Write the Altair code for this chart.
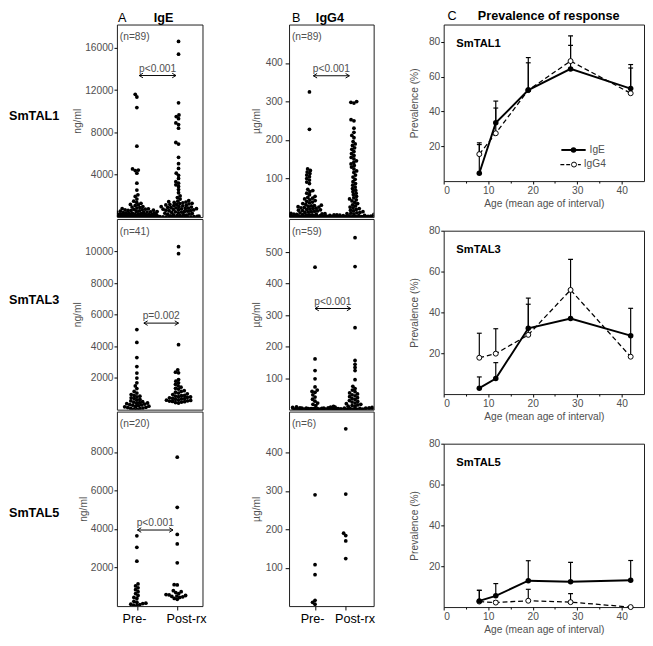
import math
import altair as alt
import pandas as pd

FONT = "Liberation Sans"
GREY = "#505050"

# ---------------- data ----------------
GROUPS = ["Pre-", "Post-rx"]
ANTIGENS = ["SmTAL1", "SmTAL3", "SmTAL5"]

# Column A: IgE (ng/ml)
ige1_pre = [11600, 11350, 10350, 6700, 4550, 4450, 4400, 4150, 3200, 2550, 2100, 1950, 1700,
            1500, 1400, 1300, 1200, 1150, 1100, 1000, 950, 900, 850, 800, 780,
            750, 720, 700, 690, 650, 630, 600, 580, 560, 530, 520, 500, 480, 470, 440, 420, 400,
            380, 360, 340, 320, 300, 290, 285, 270, 260, 250, 240, 230, 220, 210, 200, 190, 185,
            170, 160, 150, 140, 130, 120, 110, 100, 95, 90, 85, 80, 75, 70, 65, 60, 55, 50, 45,
            40, 35, 30, 25, 20, 15, 10, 8, 6, 4, 2]
ige1_post = [16600, 15400, 10800, 9650, 9500, 9300, 8900, 8750, 8400, 7050, 6900, 5650, 5050,
             4600, 4150, 3950, 3650, 3350, 3200, 3050, 2900, 2600, 2300, 2000, 1850, 1700,
             1550, 1500, 1450, 1420, 1380, 1350, 1300, 1280, 1250, 1200, 1180, 1150, 1100, 1080,
             1050, 1000, 980, 950, 920, 900, 880, 850, 820, 800, 780, 750, 720, 700, 680, 650,
             620, 600, 570, 540, 500, 470, 440, 400, 370, 340, 300, 270, 240, 210, 180, 150, 130,
             110, 90, 75, 60, 50, 40, 30, 25, 20, 15, 12, 10, 8, 6, 5, 3]
ige3_pre = [5060, 4250, 3290, 2720, 2310, 2000, 1700, 1500, 1330, 1150, 1050, 950, 900, 850, 800,
            750, 700, 650, 600, 550, 500, 480, 450, 420, 400, 380, 350, 320, 300, 280, 250, 220,
            200, 180, 150, 130, 100, 80, 60, 40, 20]
ige3_post = [10300, 9860, 4110, 2520, 2370, 2330, 1900, 1800, 1700, 1600, 1500, 1420, 1350, 1300,
             1200, 1150, 1100, 1050, 1000, 950, 900, 880, 850, 820, 800, 780, 750, 720, 700, 680,
             650, 620, 600, 580, 560, 540, 520, 500, 480, 450, 420]
ige5_pre = [3650, 3050, 2330, 1150, 1050, 950, 850, 750, 650, 550, 450, 400, 250, 200, 150, 130,
            100, 80, 50, 30]
ige5_post = [7730, 5130, 3720, 3230, 2250, 1110, 1100, 800, 750, 700, 650, 600, 580, 550, 520, 500,
             480, 450, 400, 350]

# Column B: IgG4 (µg/ml)
igg1_pre = [325, 228, 125, 121, 117, 113, 109, 105, 100, 96, 91, 87, 72, 69, 66, 62, 58,
            54, 51, 49, 47, 45, 43, 41, 39, 37, 35, 33, 31, 30, 29, 28, 27, 26, 25, 24, 23, 22,
            21, 20, 19, 18, 17, 16, 15, 14, 13, 12, 11, 10, 9.5, 9, 8.5, 8, 7.5, 7, 6.5, 6, 5.5,
            5, 4.5, 4, 3.5, 3, 3, 2.5, 2.5, 2, 2, 1.5, 1.5, 1.2, 1.2, 1, 1, 0.8, 0.8, 0.6, 0.6,
            0.5, 0.5, 0.4, 0.4, 0.3, 0.3, 0.2, 0.2, 0.1, 0.1]
igg1_post = [300, 298, 296, 253, 250, 231, 220, 212, 206, 196, 190, 186, 180, 176, 170, 165, 160,
             155, 151, 146, 142, 138, 134, 130, 125, 120, 116, 109, 104, 98, 92, 87, 83, 78, 74,
             70, 66, 62, 58, 54, 50, 47, 45, 42, 38, 35, 32, 29, 26, 24, 22, 20, 18, 16, 14, 12,
             11, 10, 9, 8, 7, 6, 5.5, 5, 4.5, 4, 3.5, 3, 2.5, 2, 2, 1.5, 1.5, 1.2, 1, 1, 0.8, 0.8,
             0.6, 0.5, 0.5, 0.4, 0.3, 0.3, 0.2, 0.2, 0.1, 0.1, 0.1]
igg3_pre = [452, 161, 124, 98, 72, 62, 58, 55, 47, 40, 33, 27, 21, 17, 13, 10, 9, 8, 7, 6, 6, 5, 5,
            4.5, 4, 4, 3.5, 3, 3, 2.5, 2.5, 2, 2, 2, 1.8, 1.6, 1.5, 1.4, 1.2, 1.1, 1, 1, 0.9, 0.8,
            0.8, 0.7, 0.6, 0.6, 0.5, 0.5, 0.4, 0.4, 0.3, 0.3, 0.2, 0.2, 0.1, 0.1, 0.1]
igg3_post = [546, 454, 260, 156, 144, 134, 124, 95, 74, 67, 62, 57, 53, 50, 47, 44, 41, 38, 35, 32,
             29, 26, 24, 21, 19, 17, 15, 13, 11, 10, 9, 8, 7, 6, 5, 4.5, 4, 3.5, 3, 2.5, 2, 2, 1.5,
             1.5, 1.2, 1, 1, 0.8, 0.7, 0.6, 0.5, 0.4, 0.4, 0.3, 0.3, 0.2, 0.2, 0.1, 0.1]
igg5_pre = [290, 108, 82, 15, 10, 5]
igg5_post = [462, 292, 190, 184, 170, 124]

N_IGE = ["(n=89)", "(n=41)", "(n=20)"]
N_IGG = ["(n=89)", "(n=59)", "(n=6)"]
P_IGE = ["p<0.001", "p=0.002", "p<0.001"]
P_IGG = ["p<0.001", "p<0.001", ""]
P_IGE_AT = [13380, 5470, 3950]
P_IGG_AT = [367, 321, 0]
TICKS_IGE = [[4000, 8000, 12000, 16000], [2000, 4000, 6000, 8000, 10000], [2000, 4000, 6000, 8000]]
TICKS_IGG = [[100, 200, 300, 400], [100, 200, 300, 400, 500], [100, 200, 300, 400]]
MAX_IGE = [18200, 12050, 10100]
MAX_IGG = [500, 605, 507]

# Column C: prevalence of response (%)
AGES = [8, 11.7, 19, 28.5, 42]
PREV_IGE = [[4.5, 33.5, 52.3, 64.5, 53.2], [2.9, 7.6, 32.2, 37.0, 28.6], [3.0, 5.5, 12.9, 12.4, 13.1]]
PREV_IGG = [[15.5, 27.5, 52.3, 69.0, 50.5], [17.8, 19.8, 29.0, 51.0, 18.3], [2.7, 2.2, 3.1, 2.4, 0.0]]
UP_IGE = [[21, 46, 71, 78, 67], [8.4, 15.4, 47, 51, 42], [8.2, 11.5, 22.7, 21.9, 22.8]]
UP_IGG = [[22, 42, 68, 83.5, 65], [29.8, 32, 44, 66, 29], [8.2, 3.0, 8.7, 6.6, 0.0]]


# ---------------- helpers ----------------
def swarm_offsets(values, ppu, diam=3.2, cap=22.0):
    """Beeswarm: horizontal pixel offsets so that dots do not overlap (within a cap)."""
    order = sorted(range(len(values)), key=lambda i: values[i])
    placed = []
    off = [0.0] * len(values)
    for i in order:
        y = values[i] * ppu
        near = [(py, px) for (py, px) in placed if abs(py - y) < diam]
        ivs = []
        for py, px in near:
            dx = math.sqrt(max(diam * diam - (py - y) ** 2, 0))
            ivs.append((px - dx, px + dx))

        def ok(c):
            return all(not (a + 1e-6 < c < b - 1e-6) for a, b in ivs)

        cands = [0.0] + [a for a, _ in ivs] + [b for _, b in ivs]
        cands = [c for c in cands if ok(c) and abs(c) <= cap]
        if cands:
            best = min(cands, key=lambda c: (abs(c), c))
        else:
            grid = [-cap + k * 0.5 for k in range(int(4 * cap) + 1)]

            def score(c):
                return min((math.hypot(c - px, y - py) for py, px in near), default=99)

            best = max(grid, key=lambda c: (round(score(c), 2), -abs(c)))
        off[i] = best
        placed.append((y, best))
    return off


def text_layer(t, x, y, size=10.5, color=GREY, weight="normal", align="left", baseline="middle"):
    return alt.Chart(pd.DataFrame({"t": [t]})).mark_text(
        font=FONT, fontSize=size, color=color, fontWeight=weight, align=align, baseline=baseline
    ).encode(x=alt.value(x), y=alt.value(y), text="t:N")


def swarm_panel(pre, post, dmax, ticks, unit, width, height, centers, nlab, ptxt, pval, px,
                show_x, row_label=None, row_y=0, header=None, yaxis_kw=None, cap=22.0):
    ppu = height / dmax
    rows = []
    for g, vals, c in zip(GROUPS, (pre, post), centers):
        offs = swarm_offsets(vals, ppu, cap=cap)
        rows += [{"group": g, "value": v, "pos": c + o / width} for v, o in zip(vals, offs)]
    df = pd.DataFrame(rows)
    if show_x:
        xaxis = alt.Axis(values=centers, labelExpr="datum.value < 0.5 ? 'Pre-' : 'Post-rx'",
                         title=None, labelFontSize=13, labelColor="black", tickSize=4,
                         labelPadding=3, grid=False,
                         labelOffset={"condition": {"test": "datum.value > 0.5", "value": 9}, "value": -3})
    else:
        xaxis = None
    X = alt.X("pos:Q", scale=alt.Scale(domain=[0, 1], nice=False, zero=False), axis=xaxis)
    Y = alt.Y("value:Q", scale=alt.Scale(domain=[0, dmax], nice=False),
              axis=alt.Axis(values=ticks, format="d", title=unit, **(yaxis_kw or {})))
    layers = [alt.Chart(df).mark_circle(size=15, color="black", opacity=1, clip=True).encode(x=X, y=Y)]
    if ptxt:
        rule_df = pd.DataFrame({"pos": [px[0]], "pos2": [px[1]], "value": [pval]})
        layers.append(alt.Chart(rule_df).mark_rule(color="black", strokeWidth=1)
                      .encode(x=X, x2="pos2:Q", y=Y))
        left_df = pd.DataFrame({"pos": [px[0]], "value": [pval]})
        right_df = pd.DataFrame({"pos": [px[1]], "value": [pval]})
        layers.append(alt.Chart(left_df).mark_point(shape="M 1 -0.6 L 0 0 L 1 0.6", filled=False,
                                                    size=60, color="black", strokeWidth=1, opacity=1)
                      .encode(x=X, y=Y))
        layers.append(alt.Chart(right_df).mark_point(shape="M -1 -0.6 L 0 0 L -1 0.6", filled=False,
                                                     size=60, color="black", strokeWidth=1, opacity=1)
                      .encode(x=X, y=Y))
        txt_df = pd.DataFrame({"pos": [(px[0] + px[1]) / 2], "value": [pval], "t": [ptxt]})
        layers.append(alt.Chart(txt_df).mark_text(font=FONT, fontSize=10.5, color=GREY, dy=-7,
                                                  baseline="middle")
                      .encode(x=X, y=Y, text="t:N"))
    layers.append(text_layer(nlab, 3, 13))
    if row_label:
        layers.append(text_layer(row_label, -111, row_y, size=13, color="black", weight="bold"))
    if header:
        for (t, x, y, s, w, a) in header:
            layers.append(text_layer(t, x, y, size=s, color="black", weight=w, align=a,
                                     baseline="alphabetic"))
    return alt.layer(*layers).properties(width=width, height=height)


def prev_panel(k, height, header=False, legend=False):
    ymax = 90 if k == 0 else 80
    X = alt.X("age:Q", scale=alt.Scale(domain=[0, 45], nice=False),
              axis=alt.Axis(values=[0, 5, 10, 15, 20, 25, 30, 35, 40],
                            labelExpr="datum.value % 10 == 0 ? datum.label : ''",
                            title="Age (mean age of interval)", labelPadding=2, titlePadding=3,
                            tickSize={"condition": {"test": "datum.value % 10 != 0", "value": 2}, "value": 3}))
    Y = alt.Y("value:Q", scale=alt.Scale(domain=[0, ymax], nice=False),
              axis=alt.Axis(values=[20, 40, 60, 80], title="Prevalence (%)", tickSize=3,
                            labelPadding=1, titlePadding=9))
    d_ige = pd.DataFrame({"age": AGES, "value": PREV_IGE[k]})
    d_igg = pd.DataFrame({"age": AGES, "value": PREV_IGG[k]})
    e_ige = pd.DataFrame({"age": AGES, "value": PREV_IGE[k], "top": UP_IGE[k]})
    e_igg = pd.DataFrame({"age": AGES, "value": PREV_IGG[k], "top": UP_IGG[k]})
    c_ige = pd.DataFrame({"age": AGES, "value": UP_IGE[k]})
    c_igg = pd.DataFrame({"age": AGES, "value": UP_IGG[k]})
    layers = []
    for e, c in ((e_igg, c_igg), (e_ige, c_ige)):
        layers.append(alt.Chart(e).mark_rule(color="black", strokeWidth=1.2).encode(x=X, y=Y, y2="top:Q"))
        layers.append(alt.Chart(c).mark_tick(orient="horizontal", size=5, thickness=1.2, color="black",
                                             opacity=1).encode(x=X, y=Y))
    layers.append(alt.Chart(d_igg).mark_line(color="black", strokeWidth=1.3, strokeDash=[5, 3])
                  .encode(x=X, y=Y))
    layers.append(alt.Chart(d_ige).mark_line(color="black", strokeWidth=2).encode(x=X, y=Y))
    layers.append(alt.Chart(d_igg).mark_point(filled=True, fill="white", stroke="black", strokeWidth=1,
                                              size=26, opacity=1).encode(x=X, y=Y))
    layers.append(alt.Chart(d_ige).mark_point(filled=True, color="black", size=32, opacity=1)
                  .encode(x=X, y=Y))
    layers.append(text_layer(ANTIGENS[k], 13, 20, size=11.5, color="black", weight="bold"))
    if header:
        layers.append(text_layer("C", 4, -5, size=13, color="black", baseline="alphabetic"))
        layers.append(text_layer("Prevalence of response", 108, -5, size=13, color="black",
                                 weight="bold", align="center", baseline="alphabetic"))
    if legend:
        one = pd.DataFrame({"t": ["IgE"]})
        layers.append(alt.Chart(one).mark_rule(color="black", strokeWidth=2)
                      .encode(x=alt.value(121), x2=alt.value(146), y=alt.value(129)))
        layers.append(alt.Chart(one).mark_point(filled=True, color="black", size=32, opacity=1)
                      .encode(x=alt.value(133.5), y=alt.value(129)))
        layers.append(text_layer("IgE", 150, 129))
        layers.append(alt.Chart(one).mark_rule(color="black", strokeWidth=1.3, strokeDash=[4, 2])
                      .encode(x=alt.value(120), x2=alt.value(141), y=alt.value(144)))
        layers.append(alt.Chart(one).mark_point(filled=True, fill="white", stroke="black",
                                                strokeWidth=1, size=26, opacity=1)
                      .encode(x=alt.value(134), y=alt.value(144)))
        layers.append(text_layer("IgG4", 144, 144))
    return alt.layer(*layers).properties(width=206, height=height)


# ---------------- panels ----------------
A_H = [198, 196, 200]
A_W, B_W = 88, 87
A_CENTERS = [(0.233, 0.72), (0.233, 0.72), (0.233, 0.705)]
B_CENTERS = [(0.241, 0.767), (0.307, 0.78), (0.307, 0.67)]
A_ARROWS = [(0.26, 0.69), (0.315, 0.72), (0.24, 0.655)]
B_ARROWS = [(0.287, 0.713), (0.307, 0.728), (0, 0)]
ROW_Y = [94, 83, 104]
ige_data = [(ige1_pre, ige1_post), (ige3_pre, ige3_post), (ige5_pre, ige5_post)]
igg_data = [(igg1_pre, igg1_post), (igg3_pre, igg3_post), (igg5_pre, igg5_post)]

a_kw = dict(tickSize=3, labelPadding=1, titlePadding=2)
b_kw = dict(tickSize=4, labelPadding=3, titlePadding=4)

colA = []
colB = []
for k in range(3):
    hdrA = [("A", 1, -3, 13, "normal", "left"), ("IgE", 48, -3, 13, "bold", "center")] if k == 0 else None
    hdrB = [("B", 3, -3, 13, "normal", "left"), ("IgG4", 42, -3, 13, "bold", "center")] if k == 0 else None
    colA.append(swarm_panel(ige_data[k][0], ige_data[k][1], MAX_IGE[k], TICKS_IGE[k], "ng/ml",
                            A_W, A_H[k], A_CENTERS[k], N_IGE[k], P_IGE[k], P_IGE_AT[k], A_ARROWS[k],
                            show_x=(k == 2), row_label=ANTIGENS[k], row_y=ROW_Y[k], header=hdrA,
                            yaxis_kw=a_kw, cap=21))
    colB.append(swarm_panel(igg_data[k][0], igg_data[k][1], MAX_IGG[k], TICKS_IGG[k], "µg/ml",
                            B_W, A_H[k], B_CENTERS[k], N_IGG[k], P_IGG[k], P_IGG_AT[k], B_ARROWS[k],
                            show_x=(k == 2), header=hdrB, yaxis_kw=b_kw, cap=23))

colC = [prev_panel(0, 161, header=True, legend=True), prev_panel(1, 168), prev_panel(2, 168)]

AB = alt.hconcat(alt.vconcat(*colA, spacing=0), alt.vconcat(*colB, spacing=0), spacing=44)
chart = alt.hconcat(AB, alt.vconcat(*colC, spacing=15), spacing=34).properties(
    padding={"left": 0, "top": -8, "right": 0, "bottom": 0}
).configure_view(stroke="#1a1a1a", strokeWidth=1).configure_axis(
    domain=False, grid=False, labelFont=FONT, titleFont=FONT, labelColor=GREY, titleColor=GREY,
    labelFontSize=10.5, titleFontSize=10.5, titleFontWeight="normal", tickColor="black"
)

chart.save("out.html", embed_options={"renderer": "svg", "actions": False})
